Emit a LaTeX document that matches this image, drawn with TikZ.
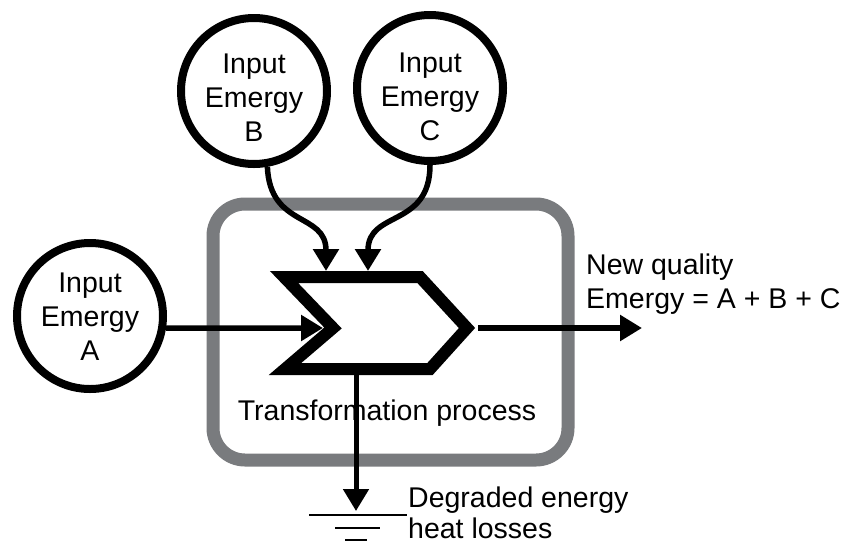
\documentclass[tikz,border=0pt]{standalone}
\usepackage{fontspec}
\setmainfont{Liberation Sans}
\usetikzlibrary{arrows.meta,positioning,calc}
\definecolor{boxgray}{RGB}{121,123,126}

\begin{document}
\begin{tikzpicture}[x=1pt, y=-1pt,
    every node/.style={font=\fontsize{28.5}{34}\selectfont},
    emergy/.style={draw, circle, line width=8pt, minimum size=146pt, inner sep=0pt},
    flow/.style={-{Triangle[length=22pt,width=25pt]}, line width=5.5pt}]
  \useasboundingbox (0,0) rectangle (843,542);
  % process box
  \draw[boxgray, line width=13pt, rounded corners=32pt] (213,204) rectangle (568,460);
  \node[anchor=base] (proc) at (387,420) {Transformation process};
  % chevron
  \draw[line width=12pt, fill=white] (284,277) -- (420,277) -- (467,328) -- (430,369) -- (285,369) -- (333,328) -- cycle;
  \coordinate (notch) at (323,328);
  \coordinate (tip) at (478,328);
  \coordinate (bin) at (326,271);
  \coordinate (cin) at (368,271);
  \coordinate (bot) at (356,375);
  \coordinate (out) at (642,328);
  \coordinate (gnd) at (356,511);
  % inputs
  \node[emergy] (a) at (90,316) {};
  \node[emergy] (b) at (254,91) {};
  \node[emergy] (c) at (430,88) {};
  \node[align=center] (a text) at ([yshift=-1pt]a.center) {Input\\Emergy\\A};
  \node[align=center] (b text) at ([yshift=-7pt]b.center) {Input\\Emergy\\B};
  \node[align=center] (c text) at ([yshift=-9pt]c.center) {Input\\Emergy\\C};
  \draw[flow] (a.-9) -- (notch);
  \draw[flow] (b.-80) .. controls (270,228) and (326,212) .. (bin);
  \draw[flow] (c.-90) .. controls (430,228) and (368,210) .. (cin);
  % output and losses
  \draw[flow] (tip) -- (out);
  \draw[flow, line width=5pt] (bot) -- (gnd);
  \draw[line width=2.5pt] ($(gnd)+(-47,4)$) -- ++(98,0) ($(gnd)+(-21,17)$) -- ++(45,0) ($(gnd)+(-11,29)$) -- ++(22,0);
  \node[anchor=west, align=left, inner sep=0pt] (newq) at (586,284) {New quality\\Emergy = A + B + C};
  \node[anchor=west, align=left, inner sep=0pt, font=\fontsize{28.5}{31}\selectfont] (loss) at (408,513) {Degraded energy\\heat losses};
\end{tikzpicture}
\end{document}
